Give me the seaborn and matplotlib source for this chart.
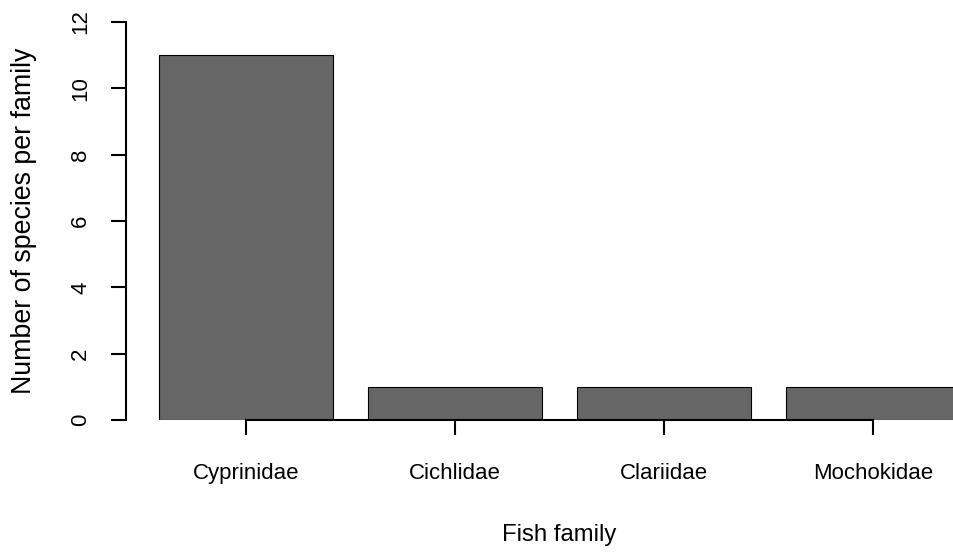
import matplotlib
matplotlib.use("Agg")
import matplotlib.pyplot as plt
import seaborn as sns
import pandas as pd

families = ["Cyprinidae", "Cichlidae", "Clariidae", "Mochokidae"]
counts = [11, 1, 1, 1]
y_ticks = [0, 2, 4, 6, 8, 10, 12]

df = pd.DataFrame({"family": families, "count": counts})

sns.set_theme(style="white")
plt.rcParams['font.family'] = ['Liberation Sans', 'DejaVu Sans']
plt.rcParams['text.color'] = 'black'
plt.rcParams['axes.labelcolor'] = 'black'
plt.rcParams['xtick.color'] = 'black'
plt.rcParams['ytick.color'] = 'black'

W, H = 954, 552
fig = plt.figure(figsize=(W / 100, H / 100), dpi=100)
ax_left, ax_right = 126, 954
ax_bottom, ax_top = 420, 22
ax = fig.add_axes([ax_left / W, (H - ax_bottom) / H,
                   (ax_right - ax_left) / W, (ax_bottom - ax_top) / H])

sns.barplot(data=df, x="family", y="count", order=families, color="#666666",
            saturation=1, width=0.828, edgecolor="black", linewidth=0.8, ax=ax)

ax.set_xlim((126 - 246) / 209, (954 - 246) / 209)
ax.set_ylim(0, 12)
ax.set_yticks(y_ticks)
ax.set_yticklabels([str(v) for v in y_ticks], rotation=90, va="center", fontsize=16)
ax.set_xticks(range(len(families)))
ax.set_xticklabels(families, fontsize=16)

for s in ["top", "right"]:
    ax.spines[s].set_visible(False)
ax.spines["left"].set_bounds(0, 12)
ax.spines["bottom"].set_bounds(0, len(families) - 1)
for s in ["left", "bottom"]:
    ax.spines[s].set_color("black")
    ax.spines[s].set_linewidth(1.5)
ax.spines["bottom"].set_zorder(5)

ax.tick_params(axis="y", length=11, width=1.5, pad=14, left=True)
ax.tick_params(axis="x", length=11, width=1.5, pad=20, bottom=True)

ax.set_xlabel("Fish family", fontsize=17.2)
ax.xaxis.set_label_coords((559 - 126) / 828, (420 - 524) / 398)
ax.set_ylabel("Number of species per family", fontsize=19.3, labelpad=24)

fig.savefig("out.png", dpi=100)
